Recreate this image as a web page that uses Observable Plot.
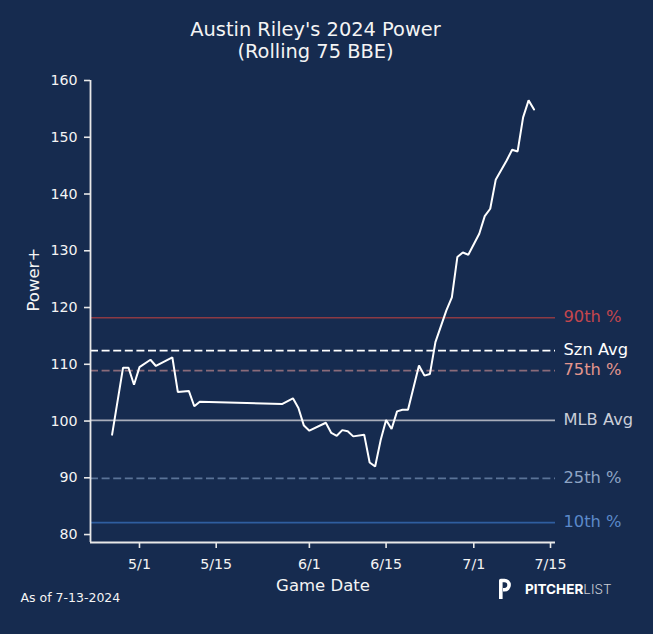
<!DOCTYPE html>
<html><head><meta charset="utf-8">
<script src="https://cdn.jsdelivr.net/npm/d3@7"></script>
<script src="https://cdn.jsdelivr.net/npm/@observablehq/plot@0.6"></script>
<style>
html,body{margin:0;padding:0;background:#162b4f;}
#wrap{position:relative;width:653px;height:634px;overflow:hidden;background:#162b4f;}
#logo{position:absolute;left:494px;top:574px;}
</style></head><body><div id="wrap"></div>
<script>
// ---- data ----
const gameDates = ["2024-04-26","2024-04-28","2024-04-29","2024-04-30","2024-05-01","2024-05-03","2024-05-04","2024-05-07","2024-05-08","2024-05-10","2024-05-11","2024-05-12","2024-05-27","2024-05-29","2024-05-30","2024-05-31","2024-06-01","2024-06-04","2024-06-05","2024-06-06","2024-06-07","2024-06-08","2024-06-09","2024-06-11","2024-06-12","2024-06-13","2024-06-14","2024-06-15","2024-06-16","2024-06-17","2024-06-18","2024-06-19","2024-06-21","2024-06-22","2024-06-23","2024-06-24","2024-06-26","2024-06-27","2024-06-28","2024-06-29","2024-06-30","2024-07-02","2024-07-03","2024-07-04","2024-07-05","2024-07-07","2024-07-08","2024-07-09","2024-07-10","2024-07-11","2024-07-12"];
const powerPlus = [97.6,109.4,109.4,106.4,109.5,110.8,109.7,111.2,105.1,105.3,102.6,103.4,103.0,104.0,102.3,99.2,98.3,99.7,97.9,97.4,98.4,98.2,97.3,97.6,92.7,92.0,96.6,100.2,98.6,101.7,102.0,102.0,109.8,108.0,108.3,113.9,119.5,121.8,128.9,129.7,129.3,133.0,136.1,137.4,142.5,145.9,147.8,147.5,153.5,156.5,154.9];
const refLabels = ["90th %","Szn Avg","75th %","MLB Avg","25th %","10th %"];
const refValues = [118.2,112.4,108.9,100.1,89.9,82.1];
const xTickDates = ["2024-05-01","2024-05-15","2024-06-01","2024-06-15","2024-07-01","2024-07-15"];
const yTicks = [80,90,100,110,120,130,140,150,160];
const xDomainDates = ["2024-04-22T01:26Z","2024-07-15T21:53Z"];
const yDomain = [78.6,160];
const titleText = "Austin Riley's 2024 Power\n(Rolling 75 BBE)";
const xLabel = "Game Date";
const yLabel = "Power+";
const footText = "As of 7-13-2024";

// ---- styles ----
const refLineColors = ["#8c3a44","#ffffff","#8a6b7a","#a9aebb","#5a7397","#2f5ea0"];
const refTextColors = ["#c4464d","#ffffff","#e3968d","#c9cdd8","#8ea4c4","#5b89c9"];
const refDashed = [false,true,true,false,true,false];
const fg = "#f4f4f4";
const font = "DejaVu Sans";

const series = gameDates.map((d,i)=>({date:new Date(d+"T00:00Z"), value:powerPlus[i]}));
const refs = refLabels.map((l,i)=>({label:l, value:refValues[i], line:refLineColors[i], text:refTextColors[i], dashed:refDashed[i]}));
const xDomain = xDomainDates.map(d=>new Date(d));
const xTicks = xTickDates.map(d=>new Date(d+"T00:00Z"));

const chart = Plot.plot({
  width:653, height:634,
  marginLeft:90, marginRight:98, marginTop:80, marginBottom:92,
  style:{background:"#162b4f", color:fg, fontFamily:font, overflow:"visible"},
  x:{type:"utc", domain:xDomain},
  y:{domain:yDomain},
  marks:[
    Plot.ruleY(refs.filter(d=>!d.dashed), {y:"value", stroke:"line", strokeWidth:1.7}),
    Plot.ruleY(refs.filter(d=>d.dashed), {y:"value", stroke:"line", strokeWidth:1.8, strokeDasharray:"8,3.6"}),
    Plot.text(refs, {x:()=>xDomain[1], y:"value", text:"label", fill:"text", textAnchor:"start", dx:8, dy:-0.5, fontSize:16.3, lineAnchor:"middle"}),
    Plot.line(series, {x:"date", y:"value", stroke:"#ffffff", strokeWidth:2, strokeLinejoin:"miter"}),
    Plot.ruleX([xDomain[0]], {y1:yDomain[0], y2:yDomain[1], stroke:"#e8e8e8", strokeWidth:1.8}),
    Plot.ruleY([yDomain[0]], {stroke:"#e8e8e8", strokeWidth:1.8}),
    Plot.axisX({ticks:xTicks, tickFormat:d3.utcFormat("%-m/%-d"), tickSize:6, tickPadding:10, fontSize:14.2, stroke:"#e8e8e8", strokeWidth:1.6, label:null, fill:fg}),
    Plot.axisY({ticks:yTicks, tickSize:6, tickPadding:7, fontSize:14.2, stroke:"#e8e8e8", strokeWidth:1.6, label:null, fill:fg}),
    Plot.text([titleText], {frameAnchor:"top", text:d=>d, dx:-7.5, dy:-59.8, lineAnchor:"top", lineHeight:1.12, fontSize:19.4, fill:fg}),
    Plot.text([xLabel], {frameAnchor:"bottom", text:d=>d, dy:36.3, lineAnchor:"top", fontSize:16.5, fill:fg}),
    Plot.text([yLabel], {frameAnchor:"left", text:d=>d, dx:-57, rotate:-90, lineAnchor:"middle", fontSize:16.5, fill:fg}),
    Plot.text([footText], {frameAnchor:"bottom-left", text:d=>d, dx:-70, dy:51.1, lineAnchor:"top", textAnchor:"start", fontSize:12.5, fill:fg})
  ]
});
const wrap = document.getElementById("wrap");
wrap.appendChild(chart);

const logo = document.createElement("div");
logo.id = "logo";
logo.innerHTML = `<svg width="130" height="30" xmlns="http://www.w3.org/2000/svg">
<path d="M6.8,25 V6.5 H10.5 a4.6,4.6 0 0 1 0,9.2 H9" fill="none" stroke="#ffffff" stroke-width="3.6" stroke-linejoin="round"/>
<text x="31" y="20" font-family="Inter" font-size="13.5" fill="#ffffff"><tspan font-weight="700">PITCHER</tspan><tspan font-weight="300" fill="#c9ccd4">LIST</tspan></text>
</svg>`;
wrap.appendChild(logo);
</script></body></html>
